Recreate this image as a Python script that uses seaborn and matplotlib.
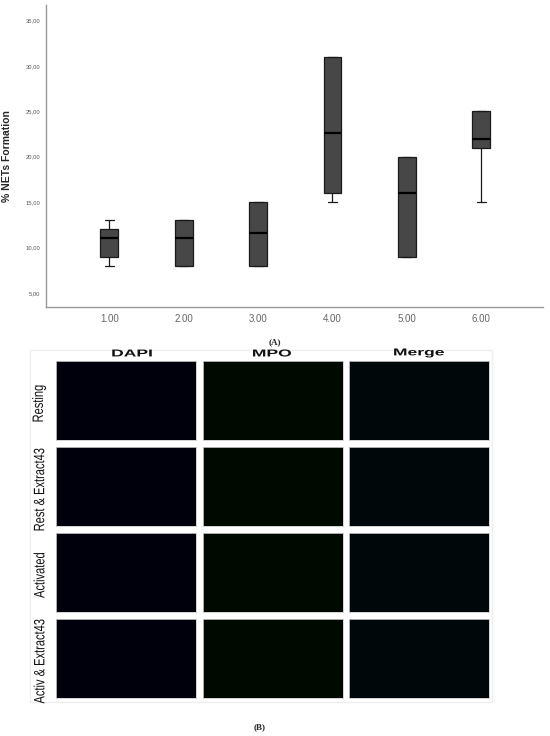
import numpy as np
import pandas as pd
import seaborn as sns
import matplotlib.pyplot as plt
from matplotlib.patches import Rectangle, PathPatch
from matplotlib.textpath import TextPath
from matplotlib.font_manager import FontProperties
from matplotlib.transforms import Affine2D

# values (five points per group -> q1/median/q3 and whiskers)
groups = ["1.00", "2.00", "3.00", "4.00", "5.00", "6.00"]
g1 = [8, 9, 11, 12, 13]
g2 = [8, 8, 11, 13, 13]
g3 = [8, 8, 11.6, 15, 15]
g4 = [15, 16, 22.6, 31, 31]
g5 = [9, 9, 16, 20, 20]
g6 = [15, 21, 22, 25, 25]
yticks = [5, 10, 15, 20, 25, 30, 35]

channels = ["DAPI", "MPO", "Merge"]
conditions = ["Resting", "Rest & Extract43", "Activated", "Activ & Extract43"]
channel_tint = ["#00000c", "#000900", "#00070a"]

vals = [g1, g2, g3, g4, g5, g6]
df = pd.DataFrame({"group": [g for g, v in zip(groups, vals) for _ in v],
                   "pct": [x for v in vals for x in v]})

sns.set_theme(style="white")
plt.rcParams['font.family'] = ['Liberation Sans', 'DejaVu Sans']

W, H = 550, 736
fig = plt.figure(figsize=(W / 100, H / 100), dpi=100)


def fx(px):
    return px / W


def fy(px):
    return 1 - px / H


def path_text(s, x, y, size_px, sx=1.0, rot=0, weight="normal", color="#111111"):
    # text drawn as a path so it can be squeezed / stretched like the figure's fonts
    tp = TextPath((0, 0), s, size=size_px,
                  prop=FontProperties(family="Liberation Sans", weight=weight))
    bb = tp.get_extents()
    tr = (Affine2D().translate(-(bb.x0 + bb.x1) / 2, -(bb.y0 + bb.y1) / 2)
          .scale(sx, 1).rotate_deg(rot).translate(x, H - y))
    fig.add_artist(PathPatch(tp, transform=tr, facecolor=color,
                             edgecolor="none", zorder=5))


# ---- panel A: box plot
ax = fig.add_axes([fx(46), fy(307), fx(497), 302 / H])
sns.boxplot(data=df, x="group", y="pct", order=groups, ax=ax, width=0.24,
            color="#474747", saturation=1, linewidth=0.9, linecolor="#1a1a1a",
            medianprops=dict(color="black", linewidth=1.6),
            whiskerprops=dict(color="#1a1a1a", linewidth=0.9),
            capprops=dict(color="#1a1a1a", linewidth=0.9),
            boxprops=dict(facecolor="#474747", edgecolor="#1a1a1a"))
ax.set_xlim(-0.85, 5.83)
ax.set_ylim(3.46, 36.7)
ax.set_yticks(yticks)
ax.set_yticklabels([f"{t:.2f}".replace(".", ",") for t in yticks],
                   fontsize=4.2, color="#555555")
ax.tick_params(axis="x", labelsize=7, colors="#666666", length=0, pad=5)
ax.tick_params(axis="y", length=0, pad=4)
ax.set_xlabel("")
ax.set_ylabel("% NETs Formation", fontsize=7.5, fontweight="bold", labelpad=10)
sns.despine(ax=ax)
for s in ["left", "bottom"]:
    ax.spines[s].set_color("#999999")
    ax.spines[s].set_linewidth(1.0)

fig.text(fx(275), fy(342), "(A)", ha="center", va="center",
         fontsize=6.5, fontweight="bold", family="Liberation Serif")

# ---- panel B: image grid
fig.patches.append(Rectangle((fx(30), fy(702)), fx(462), 352 / H,
                             transform=fig.transFigure, facecolor="none",
                             edgecolor="#eeeeee", linewidth=1.0))
col_x = [56, 203, 349]
row_y = [361, 447, 533, 619]
head_x = [132, 272, 419]
pw, ph = 140, 79
for j, ch in enumerate(channels):
    path_text(ch, head_x[j], 353, 10, sx=1.75, weight="bold")
for i, cond in enumerate(conditions):
    path_text(cond, 39, row_y[i] + ph / 2 + 3, 15, sx=0.74, rot=90)
    for j in range(3):
        pa = fig.add_axes([fx(col_x[j]), fy(row_y[i] + ph), fx(pw), ph / H])
        pa.set_facecolor(channel_tint[j])
        pa.set_xticks([])
        pa.set_yticks([])
        for s in pa.spines.values():
            s.set_color("#cccccc")
            s.set_linewidth(0.6)

fig.text(fx(260), fy(727), "(B)", ha="center", va="center",
         fontsize=6.5, fontweight="bold", family="Liberation Serif")

fig.savefig("out.png", dpi=100)
